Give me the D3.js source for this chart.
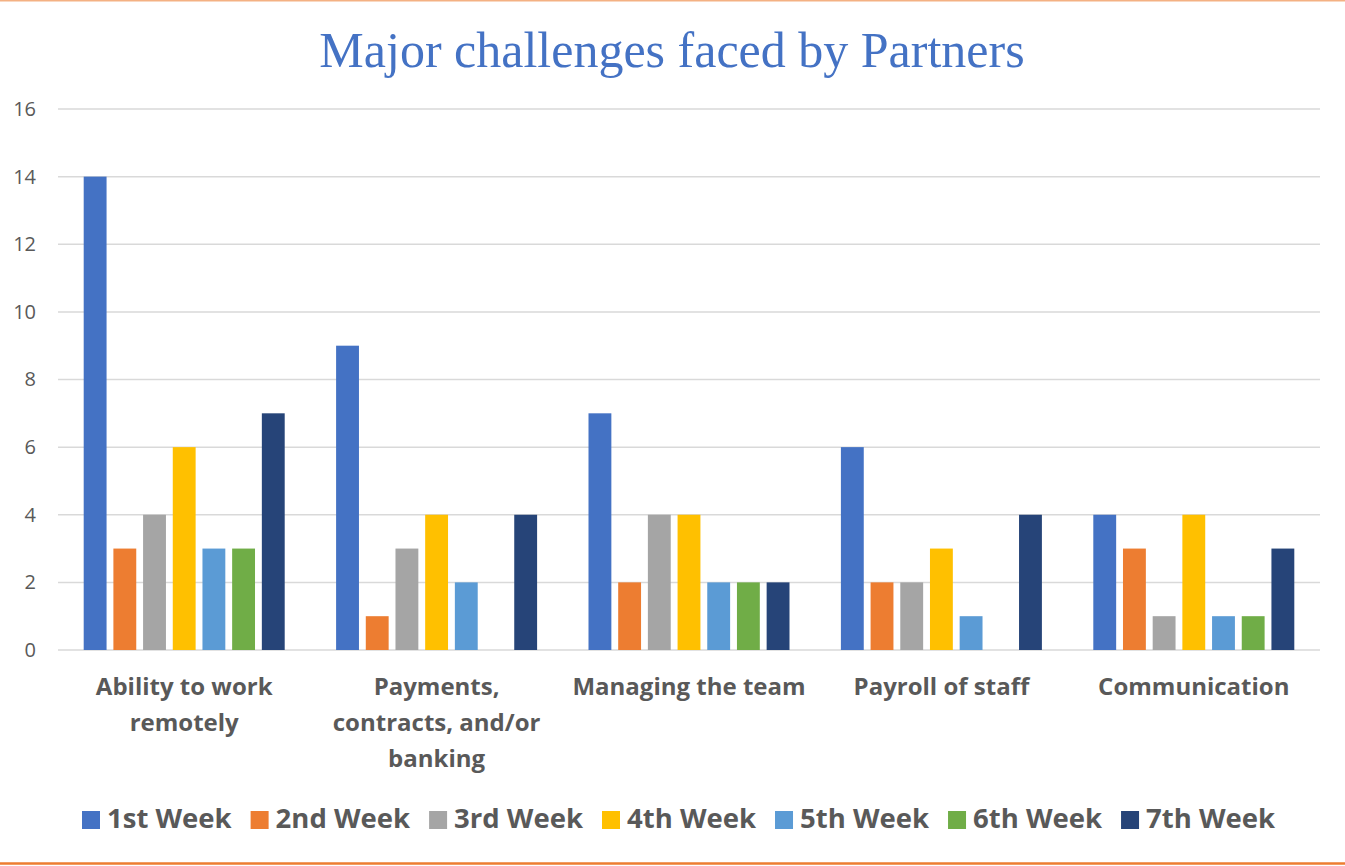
<!DOCTYPE html>
<html>
<head>
<meta charset="utf-8">
<script src="https://cdn.jsdelivr.net/npm/d3@7"></script>
<style>
  html, body { margin: 0; padding: 0; background: #fff; }
  svg { display: block; }
</style>
</head>
<body>
<div id="chart-container"></div>
<script>
// Data
const categories = ["Ability to work remotely", "Payments, contracts, and/or banking", "Managing the team", "Payroll of staff", "Communication"];
const categoryLines = [["Ability to work", "remotely"], ["Payments,", "contracts, and/or", "banking"], ["Managing the team"], ["Payroll of staff"], ["Communication"]];
const weeks = ["1st Week", "2nd Week", "3rd Week", "4th Week", "5th Week", "6th Week", "7th Week"];
const week1 = [14, 9, 7, 6, 4];
const week2 = [3, 1, 2, 2, 3];
const week3 = [4, 3, 4, 2, 1];
const week4 = [6, 4, 4, 3, 4];
const week5 = [3, 2, 2, 1, 1];
const week6 = [3, 0, 2, 0, 1];
const week7 = [7, 4, 2, 4, 3];
const yTicks = [0, 2, 4, 6, 8, 10, 12, 14, 16];
const colors = ["#4472c4", "#ed7d31", "#a5a5a5", "#ffc000", "#5b9bd5", "#70ad47", "#264478"];

const series = [week1, week2, week3, week4, week5, week6, week7];

const width = 1345;
const height = 866;
const margin = {top: 109, right: 25, bottom: 216, left: 58};

const svg = d3.select("#chart-container").append("svg")
    .attr("width", width)
    .attr("height", height);

// chart border lines (top faint, bottom orange)
svg.append("line").attr("x1", 0).attr("x2", width).attr("y1", 0.5).attr("y2", 0.5)
    .attr("stroke", "#f4b183").attr("stroke-width", 2);
svg.append("line").attr("x1", 0).attr("x2", width).attr("y1", 863.5).attr("y2", 863.5)
    .attr("stroke", "#ed7d31").attr("stroke-width", 2.5);

// Title
svg.append("text")
    .attr("x", 672)
    .attr("y", 67)
    .attr("text-anchor", "middle")
    .style("font-family", "'Liberation Serif', 'DejaVu Serif', serif")
    .style("font-size", "50px")
    .style("fill", "#4472c4")
    .text("Major challenges faced by Partners");

const x0 = d3.scaleBand()
    .domain(categories)
    .range([margin.left, width - margin.right])
    .padding(0);

const x1 = d3.scaleBand()
    .domain(d3.range(weeks.length))
    .range([25.7, x0.bandwidth() - 25.7])
    .paddingInner(0.23);

const y = d3.scaleLinear()
    .domain([0, 16])
    .range([height - margin.bottom, margin.top]);

// Gridlines
svg.append("g")
    .selectAll("line")
    .data(yTicks)
    .join("line")
    .attr("x1", margin.left)
    .attr("x2", width - margin.right)
    .attr("y1", d => y(d))
    .attr("y2", d => y(d))
    .attr("stroke", "#d9d9d9")
    .attr("stroke-width", 1.5);

// Y axis labels
const yAxis = svg.append("g")
    .attr("transform", `translate(${margin.left - 22},0)`)
    .call(d3.axisLeft(y).tickValues(yTicks).tickSize(0).tickPadding(0));
yAxis.select(".domain").remove();
yAxis.selectAll("text")
    .style("font-family", "'Open Sans', sans-serif")
    .style("font-size", "20px")
    .style("fill", "#595959");

// Bars
const group = svg.append("g")
    .selectAll("g")
    .data(categories)
    .join("g")
    .attr("transform", d => `translate(${x0(d)},0)`);

group.selectAll("rect")
    .data((d, i) => series.map((s, j) => ({week: j, value: s[i]})))
    .join("rect")
    .attr("x", d => x1(d.week))
    .attr("width", x1.bandwidth())
    .attr("y", d => y(d.value))
    .attr("height", d => y(0) - y(d.value))
    .attr("fill", d => colors[d.week]);

// Category labels
const catLabels = svg.append("g")
    .selectAll("text")
    .data(categories)
    .join("text")
    .attr("x", d => x0(d) + x0.bandwidth() / 2)
    .attr("y", 695)
    .attr("text-anchor", "middle")
    .style("font-family", "'Open Sans', sans-serif")
    .style("font-weight", "bold")
    .style("font-size", "24px")
    .style("fill", "#595959");

catLabels.selectAll("tspan")
    .data((d, i) => categoryLines[i])
    .join("tspan")
    .attr("x", function() { return this.parentNode.getAttribute("x"); })
    .attr("dy", (d, i) => i === 0 ? 0 : 36)
    .text(d => d);

// Legend
const legend = svg.append("g");
let lx = 82;
weeks.forEach((w, i) => {
    legend.append("rect")
        .attr("x", lx)
        .attr("y", 811)
        .attr("width", 18)
        .attr("height", 18)
        .attr("fill", colors[i]);
    const t = legend.append("text")
        .attr("x", lx + 25)
        .attr("y", 828)
        .style("font-family", "'Open Sans', sans-serif")
        .style("font-weight", "bold")
        .style("font-size", "27.5px")
        .style("fill", "#595959")
        .text(w);
    lx += 25 + t.node().getComputedTextLength() + 19;
});
</script>
</body>
</html>
